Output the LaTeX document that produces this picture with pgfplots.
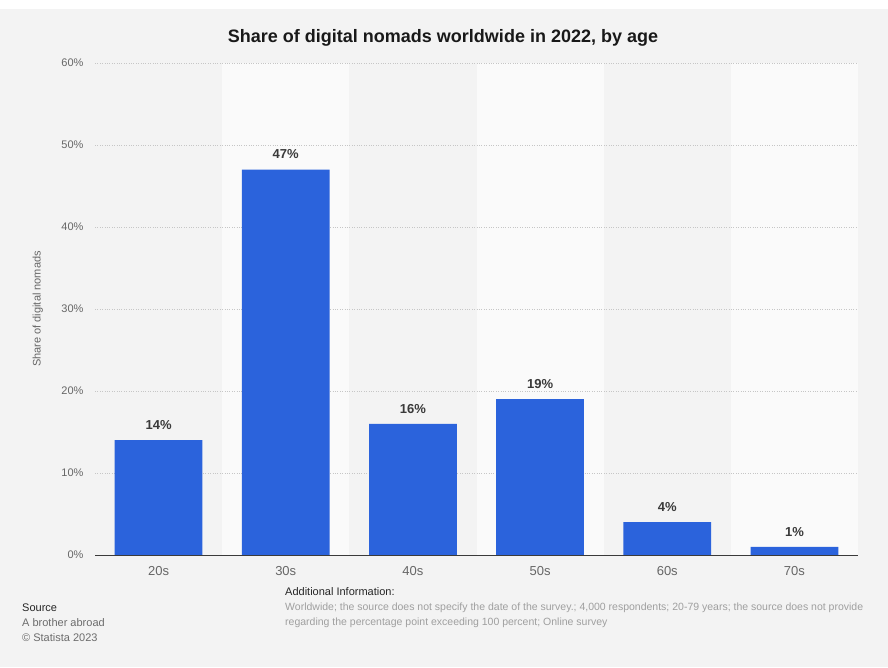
\documentclass[border=0pt]{standalone}
\usepackage{pgfplots}
\pgfplotsset{compat=1.18}
\usepackage{fontspec}
\setmainfont{Liberation Sans}
\definecolor{bgc}{HTML}{F3F3F3}
\definecolor{band}{HTML}{FAFAFA}
\definecolor{barc}{HTML}{2B63DC}
\definecolor{tickc}{HTML}{666666}
\definecolor{labc}{HTML}{3A3A3A}
\begin{document}
\begin{tikzpicture}[x=1pt,y=1pt]
\path[use as bounding box] (0,0) rectangle (888,667);
\fill[white] (0,0) rectangle (888,667);
\fill[bgc] (0,0) rectangle (888,658);
% alternating column bands
\fill[band] (222.2,112) rectangle (349.3,604);
\fill[band] (476.5,112) rectangle (603.7,604);
\fill[band] (730.8,112) rectangle (858,604);
\node[font=\fontsize{18}{20}\selectfont\bfseries, text=black!90] at (443,629) {Share of digital nomads worldwide in 2022, by age};
\begin{axis}[
  at={(95pt,112pt)}, anchor=south west,
  scale only axis, width=763pt, height=492pt,
  xmin=-0.5, xmax=5.5, ymin=0, ymax=60,
  xtick=data, xticklabels={20s,30s,40s,50s,60s,70s},
  ytick={0,10,20,30,40,50,60},
  yticklabel={\pgfmathprintnumber{\tick}\%},
  /pgf/number format/assume math mode=true,
  axis line style={draw=none},
  tick style={draw=none},
  ymajorgrids,
  grid style={dotted, gray!45, line width=0.5pt},
  yticklabel style={font=\fontsize{11}{12}\selectfont, text=gray!80!black, xshift=-8pt},
  xticklabel style={font=\fontsize{13}{14}\selectfont, text=tickc, yshift=-4pt},
  ylabel={Share of digital nomads},
  ylabel style={font=\fontsize{11}{12}\selectfont, text=gray!80!black, at={(axis description cs:-0.075,0.5)}, anchor=center},
  ybar, bar width=0.69,
  nodes near coords={\pgfmathprintnumber{\pgfplotspointmeta}\%},
  nodes near coords style={font=\fontsize{13}{14}\selectfont\bfseries, text=labc, yshift=7pt},
  clip=false,
]
\addplot[fill=barc, draw=none] coordinates {(0,14) (1,47) (2,16) (3,19) (4,4) (5,1)};
\draw[labc, line width=0.8pt] (axis cs:-0.5,0) -- (axis cs:5.5,0);
\end{axis}
\begin{scope}[every node/.style={anchor=base west, inner sep=0pt}]
\node[font=\fontsize{11}{12}\selectfont, text=black!85] at (22,56) {Source};
\node[font=\fontsize{11}{12}\selectfont, text=gray!85!black] at (22,41) {A brother abroad};
\node[font=\fontsize{11}{12}\selectfont, text=gray!85!black] at (22,26) {\textcopyright\ Statista 2023};
\node[font=\fontsize{11}{12}\selectfont, text=black!85] at (285,72) {Additional Information:};
\node[font=\fontsize{10.5}{12}\selectfont, text=gray!75] at (285,57) {Worldwide; the source does not specify the date of the survey.; 4,000 respondents; 20-79 years; the source does not provide};
\node[font=\fontsize{10.5}{12}\selectfont, text=gray!75] at (285,42) {regarding the percentage point exceeding 100 percent; Online survey};
\end{scope}
\end{tikzpicture}
\end{document}
